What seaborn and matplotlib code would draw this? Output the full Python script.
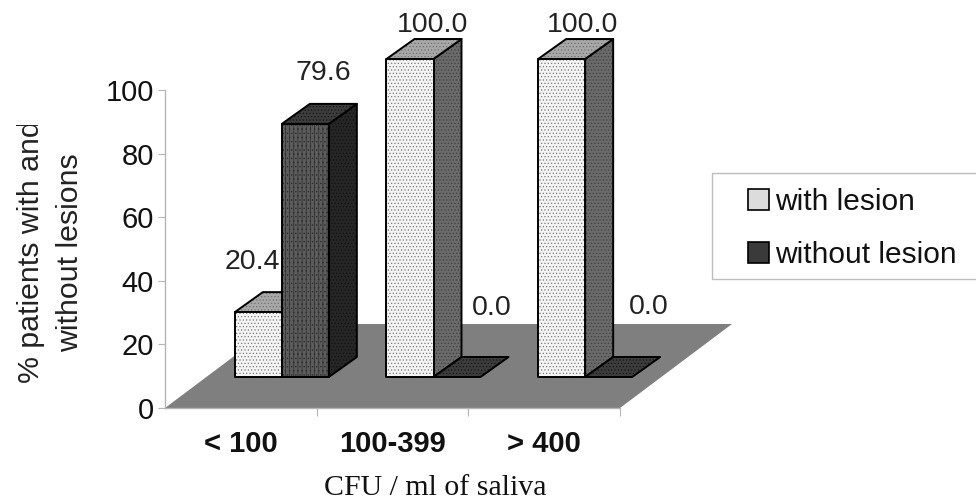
import matplotlib
matplotlib.use('Agg')
import matplotlib.pyplot as plt
import pandas as pd
import seaborn as sns
from matplotlib.patches import Patch, Polygon, Rectangle
from matplotlib.transforms import Bbox

# Values
categories = ['< 100', '100-399', '> 400']
with_lesion = [20.4, 100.0, 100.0]
without_lesion = [79.6, 0.0, 0.0]
series_names = ['with lesion', 'without lesion']

W, H = 976, 501
DPI = 100

sns.set_theme(style='white')
plt.rcParams['font.family'] = ['Liberation Sans', 'DejaVu Sans']
plt.rcParams['hatch.linewidth'] = 0.5

df = pd.DataFrame({
    'cfu': categories * 2,
    'pct': with_lesion + without_lesion,
    'group': [series_names[0]] * 3 + [series_names[1]] * 3,
})

fig = plt.figure(figsize=(W / DPI, H / DPI), dpi=DPI)


def px_axes(left, right, top, bottom):
    return fig.add_axes([left / W, 1 - bottom / H, (right - left) / W, (bottom - top) / H])


# Back axes holds the axis lines and the floor, front axes holds the bars
ax_back = px_axes(165, 620, 90, 408)
ax = px_axes(206, 661, 59, 377)

for a in (ax_back, ax):
    a.set_xlim(-0.5, 2.5)
    a.set_ylim(0, 100)

per_cat = 455 / 3
per_unit = 318 / 100

# Floor
floor_dx = 112 / per_cat
floor_dy = 84 / per_unit
ax_back.add_patch(Polygon(
    [(-0.5, 0), (2.5, 0), (2.5 + floor_dx, floor_dy), (-0.5 + floor_dx, floor_dy)],
    facecolor='#7f7f7f', edgecolor='none', clip_on=False, zorder=1))

# Axis lines and ticks
sns.despine(ax=ax_back, top=True, right=True)
for side in ('left', 'bottom'):
    ax_back.spines[side].set_color('#b5b5b5')
    ax_back.spines[side].set_linewidth(1)
ax_back.set_yticks([0, 20, 40, 60, 80, 100])
ax_back.tick_params(axis='y', left=True, length=5, width=0.8, color='#b5b5b5',
                    labelsize=21, pad=3, labelcolor='#111111')
ax_back.set_xticks([0, 1, 2])
ax_back.set_xticklabels(categories, fontsize=21, fontweight='bold', color='#111111')
ax_back.tick_params(axis='x', bottom=False, pad=9.5)
ax_back.set_xticks([0.5, 1.5, 2.5], minor=True)
ax_back.tick_params(axis='x', which='minor', bottom=True, length=6, width=0.8, color='#b5b5b5')

ylab = ax_back.set_ylabel('% patients with and\nwithout lesions', fontsize=21.75,
                          color='#222222', linespacing=1.52)
ax_back.yaxis.set_label_coords((84 - 165) / 455, 0.49)
ylab.set_clip_on(True)
ylab.set_clip_box(Bbox([[0, 0], [W, H - 125]]))

fig.text(435 / W, 1 - 495 / H, 'CFU / ml of saliva', fontsize=21.5, color='#111111',
         family='Liberation Serif', ha='center', va='baseline')

# Bars
sns.barplot(data=df, x='cfu', y='pct', hue='group', hue_order=series_names, order=categories,
            width=0.62, gap=0, dodge=True, ax=ax, legend=False,
            palette=['#f2f2f2', '#555555'])
ax.set_xlim(-0.5, 2.5)
ax.set_ylim(0, 100)
ax.axis('off')
ax.patch.set_alpha(0)

depth_x = 28 / per_cat
depth_y = 20 / per_unit

# face, dots, for front / side / top of each series
styles = {
    0: {'front': ('#f4f4f4', '#7a7a7a', '.....'), 'side': ('#6a6a6a', '#3f3f3f', '.....'),
        'top': ('#a8a8a8', '#707070', '.....')},
    1: {'front': ('#5c5c5c', '#2e2e2e', '||||....'), 'side': ('#262626', '#111111', '.....'),
        'top': ('#3c3c3c', '#161616', '.....')},
}


def face(pts, style, z):
    fc, hc, hatch = style
    ax.add_patch(Polygon(pts, facecolor=fc, edgecolor=hc, hatch=hatch, linewidth=0,
                         clip_on=False, zorder=z))
    ax.add_patch(Polygon(pts, fill=False, edgecolor='black', linewidth=1.4,
                         clip_on=False, zorder=z + 0.1, joinstyle='round'))


# Offsets of the value labels from the front face of the bar, in pixels
label_dx = [[-6, 18], [23, 35], [21, 40]]
label_dy = [[50, 51], [34, 69], [34, 70]]

n_cat = len(categories)
bars = list(ax.patches)[:2 * n_cat]
for i in range(n_cat):
    for s in range(2):
        bar = bars[s * n_cat + i]
        x0, w, h = bar.get_x(), bar.get_width(), bar.get_height()
        x1 = x0 + w
        z = 3 + i * 2 + s
        if h > 0:
            face([(x1, 0), (x1 + depth_x, depth_y), (x1 + depth_x, h + depth_y), (x1, h)],
                 styles[s]['side'], z)
        face([(x0, h), (x1, h), (x1 + depth_x, h + depth_y), (x0 + depth_x, h + depth_y)],
             styles[s]['top'], z + 0.2)
        if h > 0:
            face([(x0, 0), (x1, 0), (x1, h), (x0, h)], styles[s]['front'], z + 0.4)
        bar.set_visible(False)
        ax.annotate(f'{h:.1f}', (x0 + w / 2, h), xytext=(label_dx[i][s], label_dy[i][s]),
                    textcoords='offset pixels', ha='center', va='center', fontsize=20.5,
                    color='#222222', annotation_clip=False, zorder=20)

# Legend, box runs off the right edge
fig.add_artist(Rectangle((711.5 / W, 1 - 279 / H), 300 / W, 106 / H, transform=fig.transFigure,
                         facecolor='white', edgecolor='#bdbdbd', linewidth=1))
handles = [Patch(facecolor='#dcdcdc', edgecolor='black', linewidth=1.2),
           Patch(facecolor='#3a3a3a', edgecolor='black', linewidth=1.2)]
fig.legend(handles, series_names, loc='upper left', bbox_to_anchor=(748 / W, 1 - 188 / H),
           frameon=False, fontsize=21.5, borderpad=0, borderaxespad=0, handlelength=0.69,
           handleheight=0.69, handletextpad=0.23, labelspacing=0.83, labelcolor='#111111')

fig.savefig('out.png', dpi=DPI)
